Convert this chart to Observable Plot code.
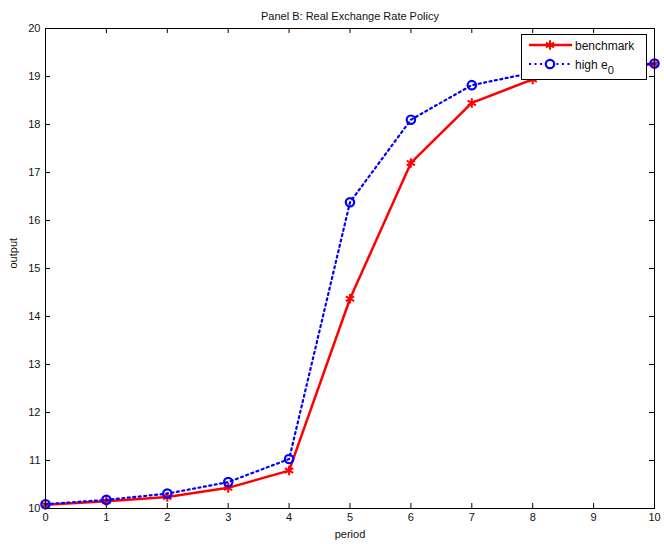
<!DOCTYPE html>
<html>
<head>
<meta charset="utf-8">
<script src="https://cdn.jsdelivr.net/npm/d3@7"></script>
<script src="https://cdn.jsdelivr.net/npm/@observablehq/plot@0.6"></script>
<style>
  body { margin: 0; background: #fff; }
  #chart svg { display: block; }
</style>
</head>
<body>
<div id="chart"></div>
<script>
const periods = [0, 1, 2, 3, 4, 5, 6, 7, 8, 9, 10];
const benchmark = [10.08, 10.15, 10.24, 10.43, 10.79, 14.37, 17.2, 18.45, 18.94, 19.15, 19.26];
const highE0 = [10.09, 10.18, 10.31, 10.55, 11.03, 16.38, 18.1, 18.82, 19.08, 19.2, 19.27];
const xTicks = [0, 1, 2, 3, 4, 5, 6, 7, 8, 9, 10];
const yTicks = [10, 11, 12, 13, 14, 15, 16, 17, 18, 19, 20];
const title = "Panel B: Real Exchange Rate Policy";
const xLabel = "period";
const yLabel = "output";
const seriesNames = ["benchmark", "high e"];

const bench = periods.map((p, i) => ({x: p, y: benchmark[i]}));
const high = periods.map((p, i) => ({x: p, y: highE0[i]}));

const W = 664, H = 544;
const mL = 45, mR = 10, mT = 28, mB = 36;
const plotW = W - mL - mR, plotH = H - mT - mB;
const tick = 5;

const chart = Plot.plot({
  width: W,
  height: H,
  marginLeft: mL,
  marginRight: mR,
  marginTop: mT,
  marginBottom: mB,
  style: {fontFamily: "'Liberation Sans', Arial, sans-serif", fontSize: "11px", color: "#111", background: "#fff"},
  x: {domain: [0, 10]},
  y: {domain: [10, 20]},
  marks: [
    Plot.axisX(xTicks, {tickSize: 0, tickPadding: 5, fontSize: 11, fill: "#111", label: null}),
    Plot.axisY(yTicks, {tickSize: 0, tickPadding: 5, fontSize: 11, fill: "#111", label: null}),
    // inward ticks on all four sides (MATLAB box style)
    Plot.tickX(xTicks, {x: d => d, insetTop: plotH - tick, stroke: "#000"}),
    Plot.tickX(xTicks, {x: d => d, insetBottom: plotH - tick, stroke: "#000"}),
    Plot.tickY(yTicks, {y: d => d, insetRight: plotW - tick, stroke: "#000"}),
    Plot.tickY(yTicks, {y: d => d, insetLeft: plotW - tick, stroke: "#000"}),
    Plot.lineY(bench, {x: "x", y: "y", stroke: "#ff0000", strokeWidth: 2.5}),
    Plot.dot(bench, {x: "x", y: "y", symbol: "asterisk", r: 4.5, stroke: "#ff0000", strokeWidth: 2}),
    Plot.lineY(high, {x: "x", y: "y", stroke: "#0000ff", strokeWidth: 2.2, strokeDasharray: "2,3.5"}),
    Plot.dot(high, {x: "x", y: "y", symbol: "circle", r: 4.2, stroke: "#0000ff", strokeWidth: 2.2, fill: "none"}),
    Plot.frame({stroke: "#000", strokeWidth: 1}),
    Plot.text([title], {frameAnchor: "top", dy: -16, fontSize: 11, fill: "#111"}),
    Plot.text([xLabel], {frameAnchor: "bottom", dy: 29, fontSize: 11, fill: "#111"}),
    Plot.text([yLabel], {frameAnchor: "left", dx: -32, rotate: -90, fontSize: 11, fill: "#111"})
  ]
});

document.getElementById("chart").appendChild(chart);

// Legend (drawn inside the plot, top-right)
const svg = d3.select(chart);
const lg = svg.append("g")
  .attr("font-family", "'Liberation Sans', Arial, sans-serif")
  .attr("font-size", 12).attr("fill", "#111").attr("text-anchor", "start");
lg.append("rect").attr("x", 521.5).attr("y", 34.5).attr("width", 125).attr("height", 45)
  .attr("fill", "#fff").attr("stroke", "#000").attr("stroke-width", 1);
// benchmark entry
lg.append("line").attr("x1", 529).attr("x2", 572).attr("y1", 45).attr("y2", 45)
  .attr("stroke", "#ff0000").attr("stroke-width", 2.5);
const ast = d3.symbol(d3.symbolAsterisk, 60)();
lg.append("path").attr("d", ast).attr("transform", "translate(550,45)")
  .attr("stroke", "#ff0000").attr("stroke-width", 2).attr("fill", "none");
lg.append("text").attr("x", 575).attr("y", 49.5).text(seriesNames[0]);
// high e0 entry
lg.append("line").attr("x1", 529).attr("x2", 572).attr("y1", 64).attr("y2", 64)
  .attr("stroke", "#0000ff").attr("stroke-width", 2.2).attr("stroke-dasharray", "2,3.5");
lg.append("circle").attr("cx", 550).attr("cy", 64).attr("r", 4.2)
  .attr("stroke", "#0000ff").attr("stroke-width", 2.2).attr("fill", "#fff");
const t2 = lg.append("text").attr("x", 575).attr("y", 68.5);
t2.append("tspan").text(seriesNames[1]);
t2.append("tspan").attr("dy", 5).attr("font-size", 11).text("0");
</script>
</body>
</html>
